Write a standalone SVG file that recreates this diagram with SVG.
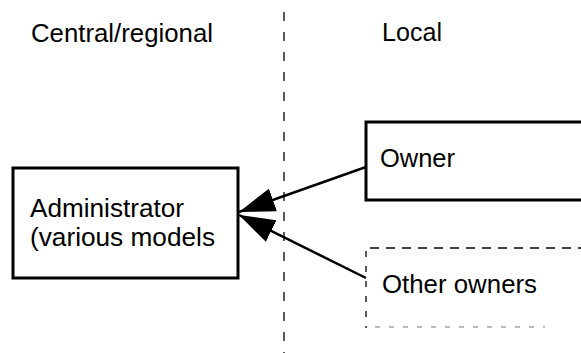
<svg xmlns="http://www.w3.org/2000/svg" width="581" height="353" viewBox="0 0 581 353">
  <style>
    text { font-family: "Liberation Sans", Arial, sans-serif; font-size: 25px; fill: #000; }
    .box { fill: #fff; stroke: #000; stroke-width: 3; }
    .divider { stroke: #000; stroke-width: 1.3; stroke-dasharray: 9 11; fill: none; }
    .dash { stroke: #000; stroke-width: 1.3; stroke-dasharray: 9 7; fill: none; }
    .faint { stroke: #777; stroke-width: 1.2; stroke-dasharray: 5 9; fill: none; }
    .conn { stroke: #000; stroke-width: 2.5; fill: none; marker-end: url(#head); }
  </style>
  <defs>
    <marker id="head" markerUnits="userSpaceOnUse" markerWidth="36" markerHeight="24" refX="36" refY="12" orient="auto">
      <path d="M0,0 L36,12 L0,24 z" fill="#000"/>
    </marker>
  </defs>
  <rect width="581" height="353" fill="#fff"/>

  <!-- column headings and divider -->
  <g id="headings">
    <text x="31" y="42" textLength="182" lengthAdjust="spacingAndGlyphs">Central/regional</text>
    <text x="382" y="41" textLength="60" lengthAdjust="spacingAndGlyphs">Local</text>
    <line class="divider" x1="284" y1="12" x2="284" y2="353"/>
  </g>

  <g id="administrator">
    <rect class="box" x="13" y="168" width="225" height="110"/>
    <text x="30" y="217" textLength="154" lengthAdjust="spacingAndGlyphs">Administrator</text>
    <text x="30" y="246" textLength="185" lengthAdjust="spacingAndGlyphs">(various models</text>
  </g>

  <g id="owner">
    <rect class="box" x="366" y="122" width="240" height="78"/>
    <text x="380" y="167" textLength="75" lengthAdjust="spacingAndGlyphs">Owner</text>
  </g>

  <g id="other-owners">
    <line class="dash" x1="370" y1="248" x2="581" y2="248"/>
    <line class="dash" x1="366" y1="251" x2="366" y2="328" style="stroke-dasharray: 6 9"/>
    <line class="faint" x1="375" y1="327" x2="545" y2="327"/>
    <text x="382" y="293" textLength="155" lengthAdjust="spacingAndGlyphs">Other owners</text>
  </g>

  <g id="connectors">
    <line class="conn" x1="366" y1="167" x2="239" y2="212"/>
    <line class="conn" x1="366" y1="278" x2="239" y2="215"/>
  </g>
</svg>
